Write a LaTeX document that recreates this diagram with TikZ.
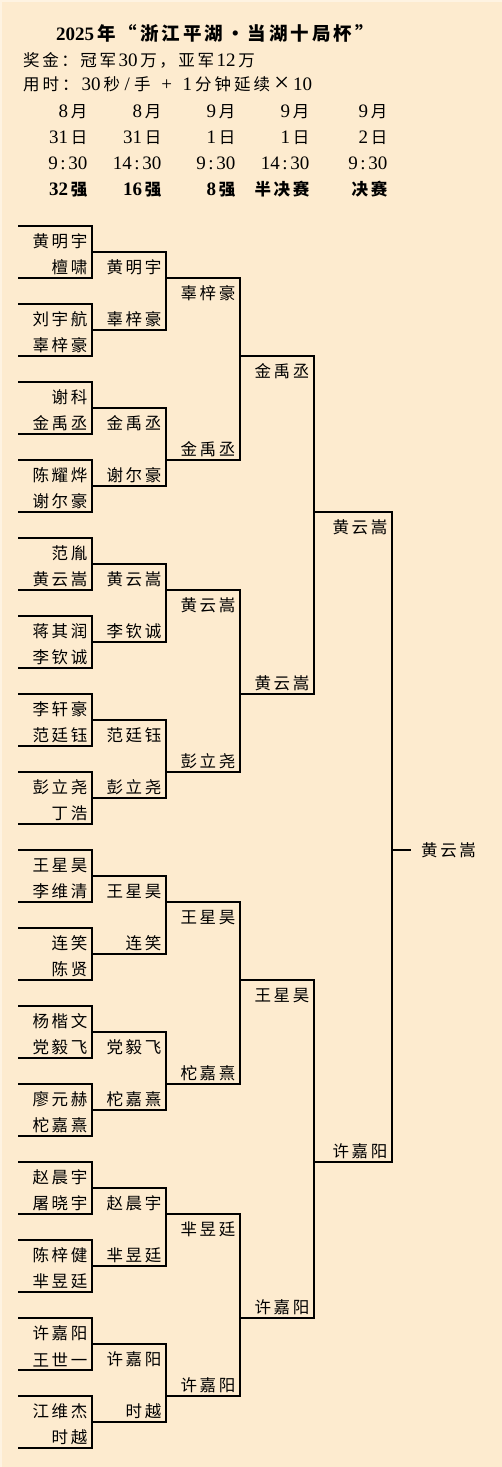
\documentclass[tikz,border=0pt]{standalone}
\usepackage{fontspec}
\setmainfont{Noto Sans CJK SC}
\newfontfamily\latn{Liberation Serif}
\definecolor{bg}{RGB}{253,235,207}
\definecolor{edgec}{RGB}{254,243,226}
\makeatletter
\newcommand\spc[2][2.6pt]{\@tempswafalse\@tfor\sp@c:=#2\do{\if@tempswa\hspace{#1}\fi\sp@c\@tempswatrue}}
\makeatother
\newcommand\spcx[1]{\expandafter\spc\expandafter{#1}}
\newcommand\dg[1]{{\latn\fontsize{19}{19}\selectfont #1}}
\newcommand\tm[2]{\dg{#1}\hspace{2.6pt}\dg{:}\hspace{2.6pt}\dg{#2}}
\newcommand\bigtimes{\makebox[17pt]{\raisebox{-1.2pt}{\latn\fontsize{27}{27}\selectfont ×}}}
\begin{document}
\begin{tikzpicture}[x=1pt,y=-1pt,
  nm/.style={anchor=east,inner sep=0pt,font=\fontsize{16.5}{16.5}\selectfont},
  hd/.style={anchor=west,inner sep=0pt,font=\fontsize{16.5}{16.5}\selectfont},
  br/.style={line width=1.2pt,black}]
\fill[bg] (0,0) rectangle (502,1467);
\fill[edgec] (0,0) rectangle (2,1467);
\fill[edgec] (0,0) rectangle (502,2);
\useasboundingbox (0,0) rectangle (502,1467);
% header
\node[hd,font=\bfseries\fontsize{18.5}{18.5}\selectfont] (title) at (56,33) {\spc[3pt]{{\dg{2025}}年“浙江平湖·当湖十局杯”}};
\node[hd] (prize) at (23,60) {\spc{奖金：冠军{\dg{30}}万，亚军{\dg{12}}万}};
\node[hd] (time) at (23,84.5) {\spc[3pt]{用时：{\dg{30}}秒{\makebox[8pt]{\dg{/}}}手{\makebox[26pt]{\dg{+}}}{\dg{1}}分钟延续{\bigtimes}{\dg{10}}}};
% column headers
\node[nm] (m1) at (87.5,111.5) {\spc{{\dg{8}}月}};
\node[nm] (m2) at (161.5,111.5) {\spc{{\dg{8}}月}};
\node[nm] (m3) at (235.5,111.5) {\spc{{\dg{9}}月}};
\node[nm] (m4) at (309.5,111.5) {\spc{{\dg{9}}月}};
\node[nm] (m5) at (387.5,111.5) {\spc{{\dg{9}}月}};
\node[nm] (d1) at (87.5,137.5) {\spc{{\dg{31}}日}};
\node[nm] (d2) at (161.5,137.5) {\spc{{\dg{31}}日}};
\node[nm] (d3) at (235.5,137.5) {\spc{{\dg{1}}日}};
\node[nm] (d4) at (309.5,137.5) {\spc{{\dg{1}}日}};
\node[nm] (d5) at (387.5,137.5) {\spc{{\dg{2}}日}};
\node[nm] (t1) at (87.5,163.5) {\tm{9}{30}};
\node[nm] (t2) at (161.5,163.5) {\tm{14}{30}};
\node[nm] (t3) at (235.5,163.5) {\tm{9}{30}};
\node[nm] (t4) at (309.5,163.5) {\tm{14}{30}};
\node[nm] (t5) at (387.5,163.5) {\tm{9}{30}};
\node[nm,font=\bfseries\fontsize{16.5}{16.5}\selectfont] (s1) at (87.5,189.5) {\spc{{\dg{32}}强}};
\node[nm,font=\bfseries\fontsize{16.5}{16.5}\selectfont] (s2) at (161.5,189.5) {\spc{{\dg{16}}强}};
\node[nm,font=\bfseries\fontsize{16.5}{16.5}\selectfont] (s3) at (235.5,189.5) {\spc{{\dg{8}}强}};
\node[nm,font=\bfseries\fontsize{16.5}{16.5}\selectfont] (s4) at (309.5,189.5) {\spc{半决赛}};
\node[nm,font=\bfseries\fontsize{16.5}{16.5}\selectfont] (s5) at (387.5,189.5) {\spc{决赛}};
% round of 32
\foreach \a/\b [count=\m from 0] in {黄明宇/檀啸,刘宇航/辜梓豪,谢科/金禹丞,陈耀烨/谢尔豪,范胤/黄云嵩,蒋其润/李钦诚,李轩豪/范廷钰,彭立尧/丁浩,王星昊/李维清,连笑/陈贤,杨楷文/党毅飞,廖元赫/柁嘉熹,赵晨宇/屠晓宇,陈梓健/芈昱廷,许嘉阳/王世一,江维杰/时越}{
  \pgfmathsetmacro\yt{226+78*\m}
  \draw[br] (18,\yt) -- (92,\yt) -- (92,\yt+52) -- (18,\yt+52);
  \node[nm] (ra\m) at (87.5,\yt+15.5) {\spcx{\a}};
  \node[nm] (rb\m) at (87.5,\yt+41.5) {\spcx{\b}};
}
% round of 16
\foreach \a/\b [count=\m from 0] in {黄明宇/辜梓豪,金禹丞/谢尔豪,黄云嵩/李钦诚,范廷钰/彭立尧,王星昊/连笑,党毅飞/柁嘉熹,赵晨宇/芈昱廷,许嘉阳/时越}{
  \pgfmathsetmacro\yt{252+156*\m}
  \draw[br] (92,\yt) -- (166,\yt) -- (166,\yt+78) -- (92,\yt+78);
  \node[nm] (sa\m) at (161.5,\yt+15.5) {\spcx{\a}};
  \node[nm] (sb\m) at (161.5,\yt+67.5) {\spcx{\b}};
}
% round of 8
\foreach \a/\b [count=\m from 0] in {辜梓豪/金禹丞,黄云嵩/彭立尧,王星昊/柁嘉熹,芈昱廷/许嘉阳}{
  \pgfmathsetmacro\yt{278+312*\m}
  \draw[br] (166,\yt) -- (240,\yt) -- (240,\yt+182) -- (166,\yt+182);
  \node[nm] (qa\m) at (235.5,\yt+15.5) {\spcx{\a}};
  \node[nm] (qb\m) at (235.5,\yt+171.5) {\spcx{\b}};
}
% semifinals
\foreach \a/\b [count=\m from 0] in {金禹丞/黄云嵩,王星昊/许嘉阳}{
  \pgfmathsetmacro\yt{356+624*\m}
  \draw[br] (240,\yt) -- (314,\yt) -- (314,\yt+338) -- (240,\yt+338);
  \node[nm] (pa\m) at (309.5,\yt+15.5) {\spcx{\a}};
  \node[nm] (pb\m) at (309.5,\yt+327.5) {\spcx{\b}};
}
% final
\draw[br] (314,512) -- (392,512) -- (392,1162) -- (314,1162);
\node[nm] (fa) at (387.5,527.5) {\spc{黄云嵩}};
\node[nm] (fb) at (387.5,1151.5) {\spc{许嘉阳}};
\coordinate (wl) at (392,850);
\node[hd] (win) at (421,850) {\spc{黄云嵩}};
\draw[br] (wl) -- (411,850);
\end{tikzpicture}
\end{document}
